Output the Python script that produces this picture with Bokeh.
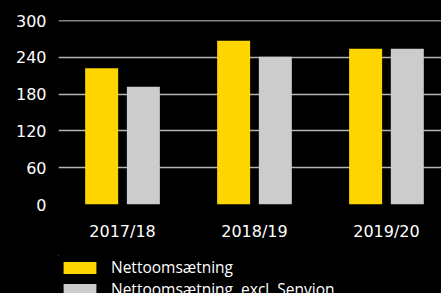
from bokeh.plotting import figure
from bokeh.layouts import column
from bokeh.models import (Range1d, FixedTicker, Legend, LegendItem, Span,
                          ColumnDataSource, GlobalInlineStyleSheet)
from bokeh.transform import dodge
from bokeh.embed import file_html
from bokeh.resources import INLINE

categories = ["2017/18", "2018/19", "2019/20"]
netto = [222, 267, 254]
netto_excl = [192, 241, 254]
y_ticks = [0, 60, 120, 180, 240, 300]
series_names = ["Nettoomsætning", "Nettoomsætning, excl. Senvion"]

YELLOW = "#FFD500"
GREY = "#CCCCCC"
FONT = "DejaVu Sans"

idx = list(range(len(categories)))
src = ColumnDataSource(dict(x=idx, netto=netto, excl=netto_excl))

p = figure(width=441, height=255, output_backend="svg", toolbar_location=None,
           x_range=Range1d(-0.485, 2.417), y_range=Range1d(0, 300),
           min_border_left=58, min_border_right=0, min_border_top=20,
           min_border_bottom=51, background_fill_color="black",
           border_fill_color="black", outline_line_color=None)

r1 = p.vbar(x=dodge("x", -0.158, range=p.x_range), top="netto", width=0.25,
            source=src, fill_color=YELLOW, line_color=None)
r2 = p.vbar(x=dodge("x", 0.158, range=p.x_range), top="excl", width=0.25,
            source=src, fill_color=GREY, line_color=None)

p.xgrid.visible = False
p.ygrid.ticker = FixedTicker(ticks=y_ticks[:-1])
p.ygrid.grid_line_color = "#B4B4B4"
p.ygrid.grid_line_width = 1.3
p.add_layout(Span(location=y_ticks[-1], dimension="width",
                  line_color="white", line_width=1.3))

p.yaxis.ticker = FixedTicker(ticks=y_ticks)
p.xaxis.ticker = FixedTicker(ticks=idx)
p.xaxis.major_label_overrides = {i: c for i, c in zip(idx, categories)}
for ax in (p.xaxis[0], p.yaxis[0]):
    ax.axis_line_color = None
    ax.major_tick_line_color = None
    ax.minor_tick_line_color = None
    ax.major_label_text_color = "white"
    ax.major_label_text_font = FONT
    ax.major_label_text_font_size = "16px"
p.yaxis.major_label_standoff = 6
p.xaxis.major_label_standoff = 11

# legend strip underneath (its bars lie outside this strip's ranges)
p2 = figure(width=441, height=38, output_backend="svg", toolbar_location=None,
            x_range=Range1d(10, 11), y_range=Range1d(-2, -1),
            x_axis_location=None, y_axis_location=None,
            min_border_left=42, min_border_right=0, min_border_top=0,
            min_border_bottom=0, background_fill_color="black",
            border_fill_color="black", outline_line_color=None)
p2.grid.visible = False
l1 = p2.vbar(x="x", top="netto", width=0.25, source=src,
             fill_color=YELLOW, line_color=None)
l2 = p2.vbar(x="x", top="excl", width=0.25, source=src,
             fill_color=GREY, line_color=None)
legend = Legend(items=[LegendItem(label=series_names[0], renderers=[l1]),
                       LegendItem(label=series_names[1], renderers=[l2])],
                location="top_left", orientation="vertical",
                glyph_width=41, glyph_height=15, label_height=18,
                label_standoff=11, spacing=0, padding=0, margin=1,
                border_line_color=None, background_fill_alpha=0,
                label_text_color="white", label_text_font="Open Sans",
                label_text_font_size="15.5px")
p2.add_layout(legend, "center")

layout = column(p, p2, spacing=0)
layout.stylesheets.append(GlobalInlineStyleSheet(
    css="html, body { background: #000; margin: 0; padding: 0; overflow: hidden; }"))

open("out.html", "w").write(file_html(layout, INLINE))
